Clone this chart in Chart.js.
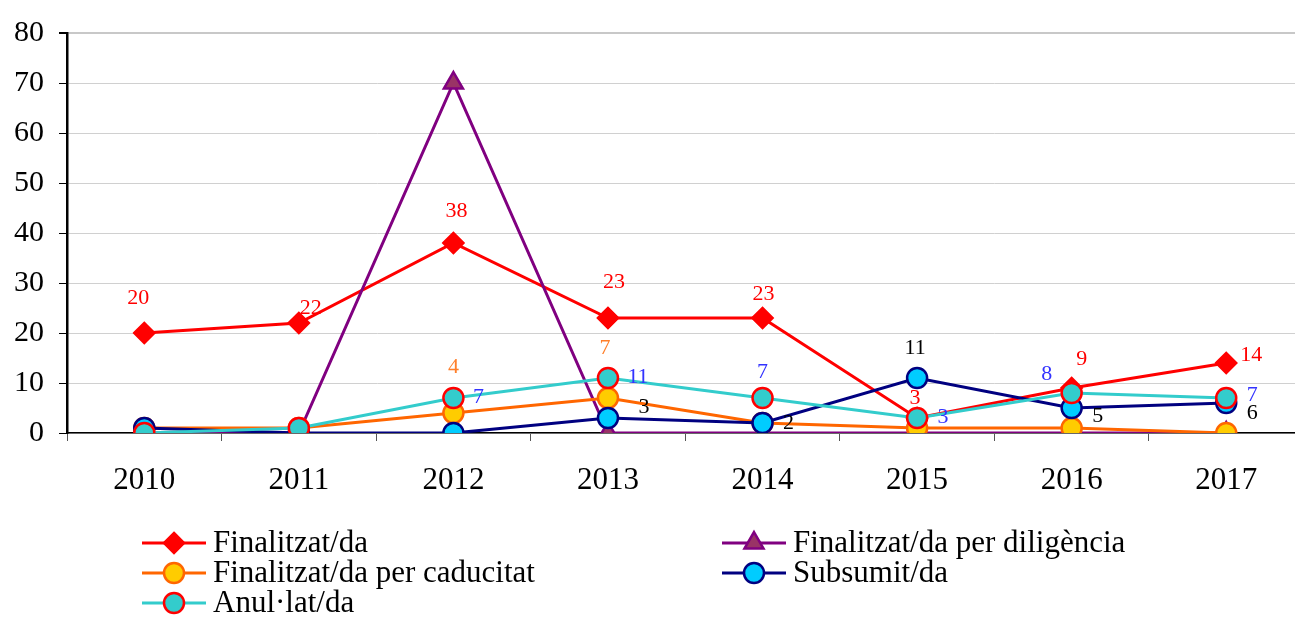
<!DOCTYPE html>
<html>
<head>
<meta charset="utf-8">
<script src="https://cdn.jsdelivr.net/npm/chart.js@4/dist/chart.umd.min.js"></script>
<style>
  html, body { margin: 0; padding: 0; background: #fff; overflow: hidden; }
  #wrap { width: 1317px; height: 617px; }
</style>
</head>
<body>
<div id="wrap"><canvas id="c" width="1317" height="617"></canvas></div>
<script>
// Categories and series
const years = ['2010', '2011', '2012', '2013', '2014', '2015', '2016', '2017'];
const finalitzat = [20, 22, 38, 23, 23, 3, 9, 14];
const diligencia = [0, 0, 70, 0, 0, 0, 0, 0];
const caducitat = [1, 1, 4, 7, 2, 1, 1, 0];
const subsumit = [1, 0, 0, 3, 2, 11, 5, 6];
const anullat = [0, 1, 7, 11, 7, 3, 8, 7];
const yMin = 0, yMax = 80, yStep = 10;

const seriesNames = [
  'Finalitzat/da',
  'Finalitzat/da per diligència',
  'Finalitzat/da per caducitat',
  'Subsumit/da',
  'Anul·lat/da'
];

const SERIF = '"Liberation Serif", "Times New Roman", serif';

// Which points carry a value label, with label colour and offset from the point
const valueLabels = [
  { ds: 0, color: '#ff0000', at: [[0, -6, -35], [1, 12, -15], [2, 3, -32], [3, 6, -36], [4, 1, -24], [5, -2, -20], [6, 10, -29], [7, 25, -8]] },
  { ds: 2, color: '#ff7f2a', at: [[2, 0, -46], [3, -3, -50]] },
  { ds: 4, color: '#3333ff', at: [[2, 25, -1], [3, 30, -1], [4, 0, -26], [5, 26, -1], [6, -25, -19], [7, 26, -3]] },
  { ds: 3, color: '#000000', at: [[3, 36, -11], [4, 26, 0], [5, -2, -30], [6, 26, 8], [7, 26, 10]] }
];

function drawMarker(ctx, style, x, y, r, fill, stroke, lw) {
  ctx.save();
  ctx.beginPath();
  if (style === 'rectRot') {
    ctx.moveTo(x, y - r); ctx.lineTo(x + r, y); ctx.lineTo(x, y + r); ctx.lineTo(x - r, y);
  } else if (style === 'triangle') {
    const w = r * Math.sqrt(3) / 2;
    ctx.moveTo(x, y - r); ctx.lineTo(x + w, y + r / 2); ctx.lineTo(x - w, y + r / 2);
  } else {
    ctx.arc(x, y, r, 0, Math.PI * 2);
  }
  ctx.closePath();
  ctx.fillStyle = fill; ctx.fill();
  ctx.lineWidth = lw; ctx.strokeStyle = stroke; ctx.stroke();
  ctx.restore();
}

const valueLabelPlugin = {
  id: 'valueLabels',
  afterDatasetsDraw(chart) {
    const ctx = chart.ctx;
    const xs = chart.scales.x, ys = chart.scales.y;
    ctx.save();
    ctx.font = '22px ' + SERIF;
    ctx.textAlign = 'center';
    ctx.textBaseline = 'middle';
    valueLabels.forEach(group => {
      const values = chart.data.datasets[group.ds].data;
      ctx.fillStyle = group.color;
      group.at.forEach(([i, dx, dy]) => {
        const x = xs.getPixelForValue(i) + dx;
        const y = ys.getPixelForValue(values[i]) + dy;
        ctx.fillText(String(values[i]), x, y);
      });
    });
    ctx.restore();
  }
};

// Two-column legend under the plot
const legendLayout = [
  { ds: 0, x: 142, y: 543 },
  { ds: 1, x: 722, y: 543 },
  { ds: 2, x: 142, y: 573 },
  { ds: 3, x: 722, y: 573 },
  { ds: 4, x: 142, y: 603 }
];

const legendPlugin = {
  id: 'colLegend',
  afterDraw(chart) {
    const ctx = chart.ctx;
    ctx.save();
    legendLayout.forEach(item => {
      const d = chart.data.datasets[item.ds];
      ctx.beginPath();
      ctx.moveTo(item.x, item.y);
      ctx.lineTo(item.x + 64, item.y);
      ctx.strokeStyle = d.borderColor;
      ctx.lineWidth = 3;
      ctx.stroke();
      drawMarker(ctx, d.pointStyle, item.x + 32, item.y, d.pointRadius, d.pointBackgroundColor, d.pointBorderColor, 2.5);
      ctx.fillStyle = '#000';
      ctx.font = '31px ' + SERIF;
      ctx.textAlign = 'left';
      ctx.textBaseline = 'middle';
      ctx.fillText(d.label, item.x + 71, item.y + 1);
    });
    ctx.restore();
  }
};

function series(i, data, line, pointStyle, fill, stroke, radius, order) {
  return {
    label: seriesNames[i],
    data: data,
    borderColor: line,
    borderWidth: 3,
    pointStyle: pointStyle,
    pointRadius: radius,
    pointHoverRadius: radius,
    pointBackgroundColor: fill,
    pointBorderColor: stroke,
    pointBorderWidth: 2.5,
    tension: 0,
    fill: false,
    order: order
  };
}

new Chart(document.getElementById('c'), {
  type: 'line',
  data: {
    labels: years,
    datasets: [
      series(0, finalitzat, '#ff0000', 'rectRot', '#ff0000', '#ff0000', 10, 5),
      series(1, diligencia, '#800080', 'triangle', '#993366', '#800080', 11, 4),
      series(2, caducitat, '#ff6600', 'circle', '#ffcc00', '#ff6600', 10, 3),
      series(3, subsumit, '#000080', 'circle', '#00ccff', '#000080', 10, 2),
      series(4, anullat, '#33cccc', 'circle', '#33cccc', '#ff0000', 10, 1)
    ]
  },
  options: {
    responsive: false,
    animation: false,
    layout: { padding: { top: 32, left: 0, right: 0, bottom: 0 } },
    plugins: { legend: { display: false }, tooltip: { enabled: false } },
    scales: {
      x: {
        offset: true,
        grid: { display: true, drawOnChartArea: false, offset: true, tickLength: 8, tickColor: '#555', lineWidth: 1 },
        border: { display: true, color: '#000', width: 1.5 },
        ticks: { color: '#000', font: { family: SERIF, size: 31 }, padding: 21, maxRotation: 0 },
        afterFit(scale) { scale.height = 184; }
      },
      y: {
        min: yMin,
        max: yMax,
        ticks: { stepSize: yStep, color: '#000', font: { family: SERIF, size: 30 }, padding: 15 },
        grid: {
          color: ctx => ctx.tick && ctx.tick.value === yMax ? '#c8c8c8' : '#d0d0d0',
          lineWidth: ctx => ctx.tick && ctx.tick.value === yMax ? 2 : 1,
          tickColor: '#000',
          tickLength: 8
        },
        border: { display: true, color: '#000', width: 2.5 },
        afterFit(scale) { scale.width = 67; }
      }
    }
  },
  plugins: [valueLabelPlugin, legendPlugin]
});
</script>
</body>
</html>
